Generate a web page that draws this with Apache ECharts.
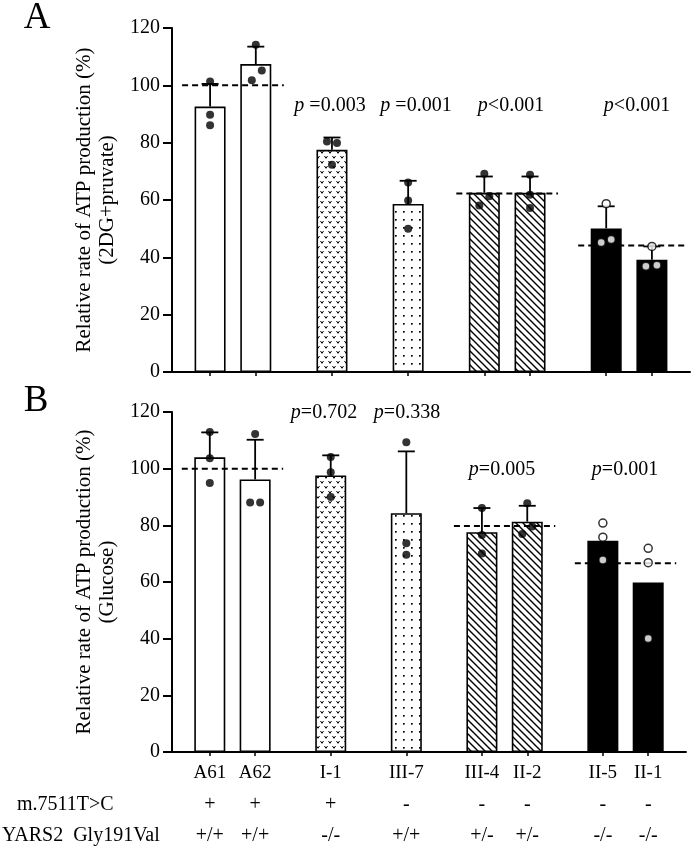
<!DOCTYPE html>
<html><head><meta charset="utf-8">
<script src="https://cdn.jsdelivr.net/npm/echarts@6/dist/echarts.min.js"></script>
<style>html,body{margin:0;padding:0;background:#fff;}#c{width:693px;height:854px;}</style>
</head><body><div id="c"></div>
<script>
// ---------------- data ----------------
const categories = ['A61', 'A62', 'I-1', 'III-7', 'III-4', 'II-2', 'II-5', 'II-1'];
const yTicks = [0, 20, 40, 60, 80, 100, 120];

const meanA = [92.6, 107.4, 77.5, 58.6, 62.5, 62.5, 50.1, 39.2];
const sdA   = [7.9, 6.1, 4.3, 8.1, 5.7, 5.7, 7.7, 4.6];
const pointsA = [
  [101.3, 89.7, 86.1], [114.2, 105.2, 101.8], [80.4, 79.9, 72.3], [66.1, 59.8, 50.0],
  [69.2, 61.3, 58.1], [68.8, 61.8, 57.2], [58.7, 45.2, 46.2], [43.8, 36.9, 37.2]
];
const refA = [100, 62.3, 44.1];
const pTextA = ['p =0.003', 'p =0.001', 'p<0.001', 'p<0.001'];

const meanB = [104.0, 96.2, 97.6, 84.3, 77.6, 81.3, 74.6, 59.8];
const sdB   = [8.8, 14.0, 7.1, 21.8, 8.5, 5.6, null, null];
const pointsB = [
  [112.9, 103.7, 94.9], [112.2, 88.1, 88.1], [104.1, 98.7, 90.0], [109.3, 73.7, 69.6],
  [86.1, 76.6, 70.1], [87.8, 79.6, 76.9], [80.8, 75.8, 67.8], [71.9, 66.8, 40.1]
];
const refB = [100, 79.8, 66.6];
const pTextB = ['p=0.702', 'p=0.338', 'p=0.005', 'p=0.001'];

const rowNames = ['m.7511T>C', 'YARS2  Gly191Val'];
const mutation = ['+', '+', '+', '-', '-', '-', '-', '-'];
const genotype = ['+/+', '+/+', '-/-', '+/+', '+/-', '+/-', '-/-', '-/-'];

// ---------------- layout / style ----------------
const SLOTS = 34;
const slotOf = [2, 5, 10, 15, 20, 23, 28, 31];
const refGroups = [[0, 1], [4, 5], [6, 7]];
const refExtend = [[28, 28], [28, 28], [28, 34]];
const fills = ['open', 'open', 'vdots', 'dots', 'hatch', 'hatch', 'solid', 'solid'];
const jitterA = [[0,0,0],[0,6,-4],[-5,5,0],[0,0,0],[0,5,-5],[0,0,0],[0,-5,5],[0,-6,5]];
const jitterB = [[0,0,0],[0,-5,5],[0,0,0],[0,0,0],[0,0,0],[0,5,-5],[0,0,0],[0,0,0]];
const pPosA = [[330, 106], [416, 106], [511, 106], [637, 106]];
const pPosB = [[324, 413], [407, 413], [502, 470], [625, 470]];
const FONT = 'Liberation Serif';

function makePattern(kind) {
  if (kind === 'open') return '#ffffff';
  if (kind === 'solid') return '#000000';
  const c = document.createElement('canvas');
  const ctx = c.getContext('2d');
  if (kind === 'hatch') {
    c.width = 7; c.height = 7;
    ctx.fillStyle = '#fff'; ctx.fillRect(0, 0, 7, 7);
    ctx.strokeStyle = '#000'; ctx.lineWidth = 1.4;
    ctx.beginPath();
    ctx.moveTo(-1, -1); ctx.lineTo(8, 8);
    ctx.moveTo(6, -1); ctx.lineTo(8, 1);
    ctx.moveTo(-1, 6); ctx.lineTo(1, 8);
    ctx.stroke();
  } else if (kind === 'dots') {
    c.width = 8; c.height = 8;
    ctx.fillStyle = '#fff'; ctx.fillRect(0, 0, 8, 8);
    ctx.fillStyle = '#000'; ctx.fillRect(3, 3, 1.7, 1.7);
  } else if (kind === 'vdots') {
    c.width = 8; c.height = 10;
    ctx.fillStyle = '#fff'; ctx.fillRect(0, 0, 8, 10);
    ctx.strokeStyle = '#000'; ctx.lineWidth = 1;
    ctx.beginPath();
    ctx.moveTo(0.5, 1); ctx.lineTo(2, 3.3); ctx.lineTo(3.5, 1);
    ctx.moveTo(4.5, 6); ctx.lineTo(6, 8.3); ctx.lineTo(7.5, 6);
    ctx.stroke();
  }
  return { image: c, repeat: 'repeat' };
}

function barData(means) {
  const arr = new Array(SLOTS).fill('-');
  means.forEach((v, i) => {
    arr[slotOf[i]] = { value: v, itemStyle: { color: makePattern(fills[i]), borderColor: '#000', borderWidth: 1.6 } };
  });
  return arr;
}
function errData(means, sds) {
  const out = [];
  means.forEach((m, i) => { if (sds[i] != null) out.push([slotOf[i], m, m + sds[i]]); });
  return out;
}
function pointData(pts, jit) {
  const out = [];
  pts.forEach((arr, i) => {
    const open = fills[i] === 'solid';
    arr.forEach((v, k) => {
      out.push({
        value: [slotOf[i], v],
        symbolOffset: [jit[i][k], 0],
        itemStyle: { color: open ? '#fff' : '#000', borderColor: '#000', borderWidth: open ? 1.5 : 0 }
      });
    });
  });
  return out;
}
function refData(levels) {
  return levels.map((v, g) => [slotOf[refGroups[g][0]], slotOf[refGroups[g][1]], v, g]);
}

function renderErr(params, api) {
  const p0 = api.coord([api.value(0), api.value(1)]);
  const p1 = api.coord([api.value(0), api.value(2)]);
  const st = { stroke: '#000', lineWidth: 1.8 };
  return { type: 'group', children: [
    { type: 'line', shape: { x1: p0[0], y1: p0[1], x2: p1[0], y2: p1[1] }, style: st },
    { type: 'line', shape: { x1: p1[0] - 8.5, y1: p1[1], x2: p1[0] + 8.5, y2: p1[1] }, style: st }
  ]};
}
function makeRenderRef(panel) {
  return function (params, api) {
    const a = api.coord([api.value(0), api.value(2)]);
    const b = api.coord([api.value(1), api.value(2)]);
    const ext = refExtend[api.value(3)];
    const e1 = panel === 0 ? ext[1] : 28;
    return { type: 'line', shape: { x1: a[0] - ext[0], y1: a[1], x2: b[0] + e1, y2: b[1] },
      style: { stroke: '#000', lineWidth: 2, lineDash: [6, 4] } };
  };
}

const slotNames = Array.from({ length: SLOTS }, (_, i) => String(i));
const labelBySlot = {};
slotOf.forEach((s, i) => { labelBySlot[s] = categories[i]; });
const isUsed = (idx) => labelBySlot[idx] !== undefined;

function xAxis(gridIndex, showLabels) {
  return {
    type: 'category', gridIndex, data: slotNames,
    axisLine: { show: true, lineStyle: { color: '#000', width: 2 } },
    axisTick: { show: true, alignWithLabel: true, interval: (idx) => isUsed(idx), length: 4, lineStyle: { color: '#000', width: 1.5 } },
    axisLabel: { show: showLabels, interval: 0, margin: 12, color: '#000', fontFamily: FONT, fontSize: 19,
      formatter: (v, idx) => labelBySlot[idx] || '' },
    splitLine: { show: false }
  };
}
function yAxis(gridIndex, name) {
  return {
    type: 'value', gridIndex, min: yTicks[0], max: yTicks[yTicks.length - 1], interval: yTicks[1] - yTicks[0],
    name, nameLocation: 'middle', nameGap: 49,
    nameTextStyle: { color: '#000', fontFamily: FONT, fontSize: 21, lineHeight: 23 },
    axisLine: { show: true, onZero: false, lineStyle: { color: '#000', width: 2 } },
    axisTick: { show: true, length: 9, lineStyle: { color: '#000', width: 2 } },
    axisLabel: { color: '#000', fontFamily: FONT, fontSize: 20, margin: 12 },
    splitLine: { show: false }
  };
}

function seriesFor(idx, means, sds, pts, jit, refs) {
  return [
    { type: 'bar', xAxisIndex: idx, yAxisIndex: idx, data: barData(means), barWidth: 31, z: 2, animation: false, silent: true },
    { type: 'custom', xAxisIndex: idx, yAxisIndex: idx, data: refData(refs), renderItem: makeRenderRef(idx), encode: { x: [0, 1], y: 2 }, z: 3, animation: false, silent: true },
    { type: 'custom', xAxisIndex: idx, yAxisIndex: idx, data: errData(means, sds), renderItem: renderErr, encode: { x: 0, y: [1, 2] }, z: 4, animation: false, silent: true },
    { type: 'scatter', xAxisIndex: idx, yAxisIndex: idx, data: pointData(pts, jit), symbol: 'circle', symbolSize: 8, z: 5, animation: false, silent: true }
  ];
}

const chart = echarts.init(document.getElementById('c'), null, { renderer: 'canvas' });
chart.setOption({
  backgroundColor: '#fff',
  animation: false,
  grid: [
    { left: 172, top: 28, width: 518, height: 344 },
    { left: 172, top: 412, width: 514, height: 340 }
  ],
  xAxis: [xAxis(0, false), xAxis(1, true)],
  yAxis: [
    yAxis(0, 'Relative rate of ATP production (%)\n(2DG+pruvate)'),
    yAxis(1, 'Relative rate of ATP production (%)\n(Glucose)')
  ],
  series: [].concat(
    seriesFor(0, meanA, sdA, pointsA, jitterA, refA),
    seriesFor(1, meanB, sdB, pointsB, jitterB, refB)
  )
});

// annotations
const g = [];
function txt(x, y, text, align, size) {
  g.push({ type: 'text', x, y, z: 10, silent: true,
    style: { text, fill: '#000', fontFamily: FONT, fontSize: size, textAlign: align, textVerticalAlign: 'middle' } });
}
function ptxt(x, y, text) {
  const t = text.replace(/^p/, '{i|p}');
  g.push({ type: 'text', x, y, z: 10, silent: true,
    style: { text: t, fill: '#000', fontFamily: FONT, fontSize: 20, textAlign: 'center', textVerticalAlign: 'middle',
      rich: { i: { fontStyle: 'italic', fontFamily: FONT, fontSize: 20, fill: '#000' } } } });
}
txt(37, 18, 'A', 'center', 37);
txt(36, 401, 'B', 'center', 37);
pTextA.forEach((t, i) => ptxt(pPosA[i][0], pPosA[i][1], t));
pTextB.forEach((t, i) => ptxt(pPosB[i][0], pPosB[i][1], t));
txt(17, 805, rowNames[0], 'left', 20);
txt(2, 836, rowNames[1], 'left', 20);
slotOf.forEach((s, i) => {
  const x = chart.convertToPixel({ xAxisIndex: 1 }, s);
  txt(x, 805, mutation[i], 'center', 20);
  txt(x, 836, genotype[i], 'center', 20);
});
chart.setOption({ graphic: g });
</script>
</body></html>
